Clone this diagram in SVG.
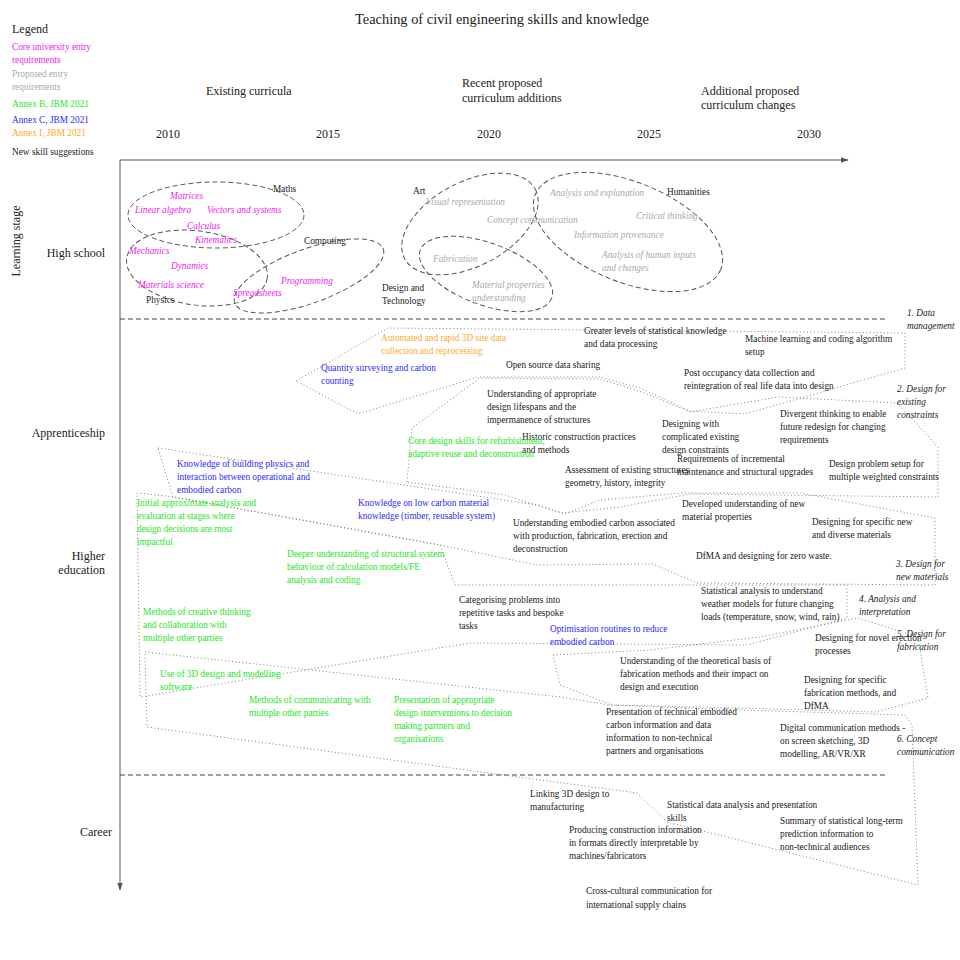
<svg xmlns="http://www.w3.org/2000/svg" width="960" height="960" viewBox="0 0 960 960">
<defs>
<marker id="ar" viewBox="0 0 10 10" refX="9" refY="5" markerWidth="8" markerHeight="8" markerUnits="userSpaceOnUse" orient="auto"><path d="M0,1.5 L10,5 L0,8.5 z" fill="#555"/></marker>
<style>
text{font-family:"Liberation Serif","Times New Roman",serif;font-size:9.3px;fill:#222}
.h{font-size:12px}
.ttl{font-size:14.4px}
.m{fill:#ee22ee;font-style:italic}
.lm{fill:#ee22ee}
.g{fill:#aaaaaa;font-style:italic}
.lg{fill:#aaaaaa}
.gr{fill:#22e822}
.b{fill:#2a2aff}
.o{fill:#ffaa2a}
.i{font-style:italic}
.el{fill:none;stroke:#555;stroke-width:1;stroke-dasharray:5 3}
.p{fill:none;stroke:#808080;stroke-width:1;stroke-dasharray:1 2.5}
.sep{stroke:#444;stroke-width:1;stroke-dasharray:5 3}
.ax{stroke:#555;stroke-width:1;fill:none}
</style>
</defs>
<rect width="960" height="960" fill="#fff"/>

<g id="title"><text class="ttl" x="502" y="24" text-anchor="middle">Teaching of civil engineering skills and knowledge</text></g>

<g id="legend">
<text class="h" x="12" y="33">Legend</text>
<text class="lm" x="12" y="50">Core university entry</text>
<text class="lm" x="12" y="63">requirements</text>
<text class="lg" x="12" y="77">Proposed entry</text>
<text class="lg" x="12" y="90">requirements</text>
<text class="gr" x="12" y="107">Annex B, JBM 2021</text>
<text class="b" x="12" y="123">Annex C, JBM 2021</text>
<text class="o" x="12" y="136">Annex I, JBM 2021</text>
<text x="12" y="155">New skill suggestions</text>
</g>

<g id="headers">
<text class="h" x="206" y="95">Existing curricula</text>
<text class="h" x="462" y="87">Recent proposed</text>
<text class="h" x="462" y="102">curriculum additions</text>
<text class="h" x="701" y="95">Additional proposed</text>
<text class="h" x="701" y="109">curriculum changes</text>
<text class="h" x="156" y="138">2010</text>
<text class="h" x="316" y="138">2015</text>
<text class="h" x="477" y="138">2020</text>
<text class="h" x="637" y="138">2025</text>
<text class="h" x="797" y="138">2030</text>
</g>

<g id="axes">
<line class="ax" x1="120" y1="160" x2="848" y2="160" marker-end="url(#ar)"/>
<line class="ax" x1="120" y1="160" x2="120" y2="890" marker-end="url(#ar)"/>
<line class="sep" x1="120" y1="319" x2="888" y2="319"/>
<line class="sep" x1="120" y1="775" x2="888" y2="775"/>
<text class="h" transform="translate(20,241) rotate(-90)" text-anchor="middle">Learning stage</text>
<text class="h" x="105" y="257" text-anchor="end">High school</text>
<text class="h" x="105" y="437" text-anchor="end">Apprenticeship</text>
<text class="h" x="105" y="560" text-anchor="end">Higher</text>
<text class="h" x="105" y="574" text-anchor="end">education</text>
<text class="h" x="112" y="836" text-anchor="end">Career</text>
</g>

<g id="highschool">
<ellipse class="el" cx="216" cy="215" rx="88" ry="33"/>
<ellipse class="el" cx="197" cy="268" rx="71" ry="37" transform="rotate(8 197 268)"/>
<ellipse class="el" cx="309" cy="276" rx="79" ry="27" transform="rotate(-20 309 276)"/>
<ellipse class="el" cx="470" cy="224" rx="74" ry="42" transform="rotate(-28 470 224)"/>
<ellipse class="el" cx="486" cy="274" rx="70" ry="31" transform="rotate(20 486 274)"/>
<ellipse class="el" cx="628" cy="232" rx="100" ry="50" transform="rotate(22 628 232)"/>
<text x="273" y="192">Maths</text>
<text class="m" x="170" y="199">Matrices</text>
<text class="m" x="135" y="213">Linear algebra</text>
<text class="m" x="207" y="213">Vectors and systems</text>
<text class="m" x="187" y="229">Calculus</text>
<text class="m" x="195" y="243">Kinematics</text>
<text x="304" y="244">Computing</text>
<text class="m" x="129" y="254">Mechanics</text>
<text class="m" x="171" y="269">Dynamics</text>
<text class="m" x="281" y="284">Programming</text>
<text class="m" x="138" y="288">Materials science</text>
<text class="m" x="233" y="296">Spreadsheets</text>
<text x="146" y="303">Physics</text>
<text x="413" y="194">Art</text>
<text class="g" x="426" y="205">Visual representation</text>
<text class="g" x="487" y="223">Concept communication</text>
<text class="g" x="550" y="196">Analysis and explanation</text>
<text x="667" y="195">Humanities</text>
<text class="g" x="636" y="219">Critical thinking</text>
<text class="g" x="574" y="238">Information provenance</text>
<text class="g" x="433" y="262">Fabrication</text>
<text class="g" x="602" y="258">Analysis of human inputs</text>
<text class="g" x="602" y="271">and changes</text>
<text class="g" x="472" y="288">Material properties</text>
<text class="g" x="472" y="301">understanding</text>
<text x="382" y="291">Design and</text>
<text x="382" y="304">Technology</text>
</g>

<g id="connectors">
<polygon id="g1" class="p" points="296,381 388,328 905,333 905,368 745,414 690,411 640,388 600,377 478,377 358,414"/>
<polygon id="g2" class="p" points="407,482 412,428 480,378 600,379 642,392 690,412 778,397 897,403 918,425 938,447 938,497 690,494 620,507 562,513 505,495"/>
<polygon id="g3" class="p" points="158,448 537,505 565,514 600,500 683,493 800,493 935,518 935,585 697,583 653,564 537,565 440,545 173,497"/>
<polygon id="g4" class="p" points="137,493 175,497 440,545 455,585 847,585 847,618 747,645 470,643 140,697"/>
<polygon id="g5" class="p" points="553,655 650,650 760,637 858,618 918,637 928,698 875,712 740,708 612,705 560,685"/>
<polygon id="g6" class="p" points="145,652 560,697 610,705 740,710 905,715 912,725 918,885 667,822 637,793 147,727"/>
</g>

<g id="group1">
<text class="i" x="907" y="316">1. Data</text>
<text class="i" x="907" y="329">management</text>
<text class="o" x="381" y="341">Automated and rapid 3D site data</text>
<text class="o" x="381" y="354">collection and reprocessing</text>
<text x="584" y="334">Greater levels of statistical knowledge</text>
<text x="584" y="347">and data processing</text>
<text x="745" y="342">Machine learning and coding algorithm</text>
<text x="745" y="355">setup</text>
<text class="b" x="321" y="371">Quantity surveying and carbon</text>
<text class="b" x="321" y="384">counting</text>
<text x="506" y="368">Open source data sharing</text>
<text x="684" y="376">Post occupancy data collection and</text>
<text x="684" y="389">reintegration of real life data into design</text>
</g>

<g id="group2">
<text class="i" x="897" y="392">2. Design for</text>
<text class="i" x="897" y="405">existing</text>
<text class="i" x="897" y="418">constraints</text>
<text x="487" y="397">Understanding of appropriate</text>
<text x="487" y="410">design lifespans and the</text>
<text x="487" y="423">impermanence of structures</text>
<text x="780" y="417">Divergent thinking to enable</text>
<text x="780" y="430">future redesign for changing</text>
<text x="780" y="443">requirements</text>
<text x="662" y="427">Designing with</text>
<text x="662" y="440">complicated existing</text>
<text x="662" y="453">design constraints</text>
<text x="522" y="440">Historic construction practices</text>
<text x="522" y="453">and methods</text>
<text class="gr" x="408" y="444">Core design skills for refurbishment,</text>
<text class="gr" x="408" y="457">adaptive reuse and deconstruction</text>
<text x="677" y="462">Requirements of incremental</text>
<text x="677" y="475">maintenance and structural upgrades</text>
<text x="829" y="467">Design problem setup for</text>
<text x="829" y="480">multiple weighted constraints</text>
<text x="565" y="473">Assessment of existing structures</text>
<text x="565" y="486">geometry, history, integrity</text>
</g>

<g id="group3">
<text class="i" x="896" y="567">3. Design for</text>
<text class="i" x="896" y="580">new materials</text>
<text class="b" x="177" y="467">Knowledge of building physics and</text>
<text class="b" x="177" y="480">interaction between operational and</text>
<text class="b" x="177" y="493">embodied carbon</text>
<text class="b" x="358" y="506">Knowledge on low carbon material</text>
<text class="b" x="358" y="519">knowledge (timber, reusable system)</text>
<text x="682" y="507">Developed understanding of new</text>
<text x="682" y="520">material properties</text>
<text x="812" y="525">Designing for specific new</text>
<text x="812" y="538">and diverse materials</text>
<text x="513" y="526">Understanding embodied carbon associated</text>
<text x="513" y="539">with production, fabrication, erection and</text>
<text x="513" y="552">deconstruction</text>
<text x="696" y="559">DfMA and designing for zero waste.</text>
</g>

<g id="group4">
<text class="i" x="859" y="602">4. Analysis and</text>
<text class="i" x="859" y="615">interpretation</text>
<text class="gr" x="137" y="506">Initial approximate analysis and</text>
<text class="gr" x="137" y="519">evaluation at stages where</text>
<text class="gr" x="137" y="532">design decisions are most</text>
<text class="gr" x="137" y="545">impactful</text>
<text class="gr" x="287" y="557">Deeper understanding of structural system</text>
<text class="gr" x="287" y="570">behaviour of calculation models/FE</text>
<text class="gr" x="287" y="583">analysis and coding</text>
<text x="701" y="594">Statistical analysis to understand</text>
<text x="701" y="607">weather models for future changing</text>
<text x="701" y="620">loads (temperature, snow, wind, rain)</text>
<text x="459" y="603">Categorising problems into</text>
<text x="459" y="616">repetitive tasks and bespoke</text>
<text x="459" y="629">tasks</text>
<text class="gr" x="143" y="615">Methods of creative thinking</text>
<text class="gr" x="143" y="628">and collaboration with</text>
<text class="gr" x="143" y="641">multiple other parties</text>
<text class="b" x="550" y="632">Optimisation routines to reduce</text>
<text class="b" x="550" y="645">embodied carbon</text>
</g>

<g id="group5">
<text class="i" x="897" y="637">5. Design for</text>
<text class="i" x="897" y="650">fabrication</text>
<text x="815" y="641">Designing for novel erection</text>
<text x="815" y="654">processes</text>
<text x="620" y="664">Understanding of the theoretical basis of</text>
<text x="620" y="677">fabrication methods and their impact on</text>
<text x="620" y="690">design and execution</text>
<text class="gr" x="160" y="677">Use of 3D design and modelling</text>
<text class="gr" x="160" y="690">software</text>
<text x="804" y="683">Designing for specific</text>
<text x="804" y="696">fabrication methods, and</text>
<text x="804" y="709">DfMA</text>
<text x="530" y="797">Linking 3D design to</text>
<text x="530" y="810">manufacturing</text>
<text x="569" y="833">Producing construction information</text>
<text x="569" y="846">in formats directly interpretable by</text>
<text x="569" y="859">machines/fabricators</text>
</g>

<g id="group6">
<text class="i" x="897" y="742">6. Concept</text>
<text class="i" x="897" y="755">communication</text>
<text class="gr" x="249" y="703">Methods of  communicating with</text>
<text class="gr" x="249" y="716">multiple other parties</text>
<text class="gr" x="394" y="703">Presentation of appropriate</text>
<text class="gr" x="394" y="716">design interventions to decision</text>
<text class="gr" x="394" y="729">making partners and</text>
<text class="gr" x="394" y="742">organisations</text>
<text x="606" y="715">Presentation of technical embodied</text>
<text x="606" y="728">carbon information and data</text>
<text x="606" y="741">information to non-technical</text>
<text x="606" y="754">partners and organisations</text>
<text x="780" y="731">Digital communication methods -</text>
<text x="780" y="744">on screen sketching, 3D</text>
<text x="780" y="757">modelling, AR/VR/XR</text>
<text x="667" y="808">Statistical data analysis and presentation</text>
<text x="667" y="821">skills</text>
<text x="780" y="824">Summary of statistical long-term</text>
<text x="780" y="837">prediction information to</text>
<text x="780" y="850">non-technical audiences</text>
</g>

<g id="career">
<text x="586" y="894">Cross-cultural communication for</text>
<text x="586" y="908">international supply chains</text>
</g>
</svg>
